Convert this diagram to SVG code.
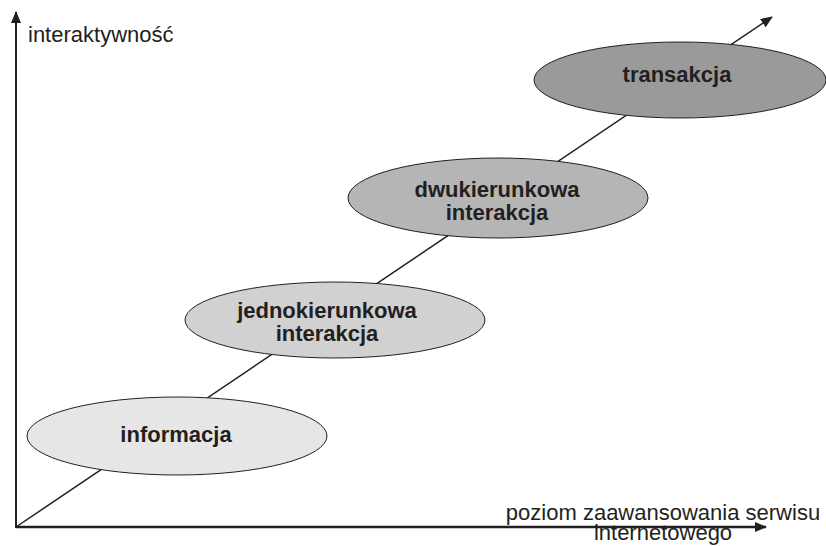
<svg xmlns="http://www.w3.org/2000/svg" width="826" height="546" viewBox="0 0 826 546">
<style>
.ax{stroke:#231f20;fill:none}
.nd{stroke:#231f20;stroke-width:1}
.lb{font-family:"Liberation Sans",Arial,sans-serif;font-size:22px;font-weight:bold;fill:#231f20;text-anchor:middle}
.al{font-family:"Liberation Sans",Arial,sans-serif;font-size:22px;fill:#231f20}
</style>
<defs>
<marker id="ah" markerUnits="userSpaceOnUse" markerWidth="12" markerHeight="10" refX="11" refY="5" orient="auto">
<path d="M0,0 L12,5 L0,10 z" fill="#231f20"/>
</marker>
</defs>
<rect width="826" height="546" fill="#ffffff"/>
<g id="connectors">
<line class="ax" x1="16" y1="528" x2="16" y2="12" stroke-width="2" marker-end="url(#ah)"/>
<line class="ax" x1="16" y1="527" x2="766" y2="527" stroke-width="2.5" marker-end="url(#ah)"/>
<line class="ax" x1="16" y1="527" x2="772" y2="17" stroke-width="1.5" marker-end="url(#ah)"/>
</g>
<g id="informacja">
<ellipse class="nd" cx="177" cy="436" rx="150" ry="39" fill="#e6e6e6"/>
<text class="lb" x="176" y="442">informacja</text>
</g>
<g id="jednokierunkowa">
<ellipse class="nd" cx="335" cy="320" rx="150" ry="38" fill="#d1d1d1"/>
<text class="lb" x="327" y="318">jednokierunkowa</text>
<text class="lb" x="327" y="341">interakcja</text>
</g>
<g id="dwukierunkowa">
<ellipse class="nd" cx="498" cy="198" rx="150" ry="40" fill="#b5b5b5"/>
<text class="lb" x="497" y="197">dwukierunkowa</text>
<text class="lb" x="497" y="220">interakcja</text>
</g>
<g id="transakcja">
<ellipse class="nd" cx="680" cy="80" rx="146" ry="38" fill="#9a9a9a"/>
<text class="lb" x="677" y="82">transakcja</text>
</g>
<g id="labels">
<text class="al" x="28" y="42">interaktywność</text>
<text class="al" x="663" y="520" text-anchor="middle">poziom zaawansowania serwisu</text>
<text class="al" x="663" y="540" text-anchor="middle">internetowego</text>
</g>
</svg>
